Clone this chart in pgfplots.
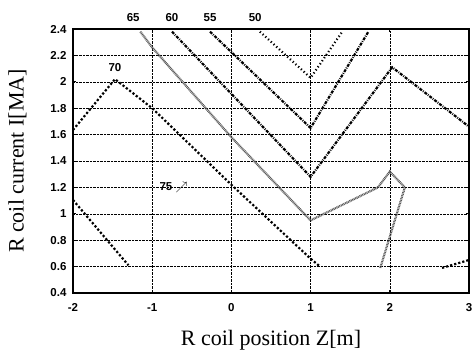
\documentclass[border=0pt]{standalone}
\usepackage{pgfplots}
\pgfplotsset{compat=1.18}
\usepackage{fontspec}
\setmainfont{Liberation Serif}
\setsansfont{Liberation Sans}
\begin{document}
\begin{tikzpicture}
\begin{axis}[
  at={(0pt,0pt)}, anchor=south west,
  scale only axis, width=396pt, height=264pt,
  xmin=-2, xmax=3, ymin=0.4, ymax=2.4,
  xtick={-2,-1,0,1,2,3},
  ytick={0.4,0.6,...,2.41},
  yticklabel style={/pgf/number format/fixed,/pgf/number format/precision=1, xshift=-3pt},
  xticklabel style={yshift=-7pt},
  /pgf/number format/assume math mode=true,
  tick label style={font=\sffamily\bfseries\fontsize{11.5}{13}\selectfont},
  grid=major,
  major grid style={black, densely dotted, line width=0.5pt},
  axis line style={black, line width=1.2pt},
  tick style={black, line width=0.8pt},
  tick align=inside, major tick length=3pt,
  xlabel={R coil position Z[m]},
  ylabel={R coil current I[MA]},
  label style={font=\fontsize{22}{24}\selectfont},
  xlabel style={at={(axis description cs:0.5,-0.18)}, anchor=center},
  ylabel style={at={(axis description cs:-0.14,0.5)}, anchor=center},
  clip=false,
]
\addplot[black, line width=2.2pt, dotted] coordinates {(-2,1.105) (-1.3,0.61)};
\addplot[black, line width=2.2pt, dotted] coordinates {(2.66,0.59) (3,0.65)};
\addplot[black, line width=2.2pt, dotted] coordinates {(-2,1.635) (-1.47,2.02) (-1,1.8) (0,1.22) (1,0.66) (1.12,0.6)};
\addplot[black!65, line width=2.2pt, dash pattern=on 0.9pt off 0.7pt] coordinates {(-1.15,2.38) (-1,2.26) (0,1.58) (1,0.95) (1.85,1.2) (2.0,1.32) (2.19,1.2) (1.88,0.59)};
\addplot[black, line width=2.2pt, dash pattern=on 3pt off 1.2pt on 0.8pt off 1.2pt] coordinates {(-0.75,2.38) (1,1.28) (2.03,2.11) (3,1.66)};
\addplot[black, line width=2.2pt, dash pattern=on 3pt off 1.2pt on 0.8pt off 1.2pt] coordinates {(-0.27,2.38) (1,1.65) (1.73,2.38)};
\addplot[black, line width=2.2pt, dash pattern=on 1.2pt off 2.5pt] coordinates {(0.36,2.38) (1,2.03) (1.4,2.38)};
\node[font=\sffamily\bfseries\fontsize{11.5}{13}\selectfont] at (axis cs:-1.24,2.49) {65};
\node[font=\sffamily\bfseries\fontsize{11.5}{13}\selectfont] at (axis cs:-0.75,2.49) {60};
\node[font=\sffamily\bfseries\fontsize{11.5}{13}\selectfont] at (axis cs:-0.27,2.49) {55};
\node[font=\sffamily\bfseries\fontsize{11.5}{13}\selectfont] at (axis cs:0.30,2.49) {50};
\node[font=\sffamily\bfseries\fontsize{11.5}{13}\selectfont] at (axis cs:-1.47,2.11) {70};
\node[font=\sffamily\bfseries\fontsize{11.5}{13}\selectfont] at (axis cs:-0.73,1.2) {75 $\nearrow$};
\end{axis}
\pgfresetboundingbox
\path (-73pt,-61pt) rectangle (403pt,293pt);
\end{tikzpicture}
\end{document}
